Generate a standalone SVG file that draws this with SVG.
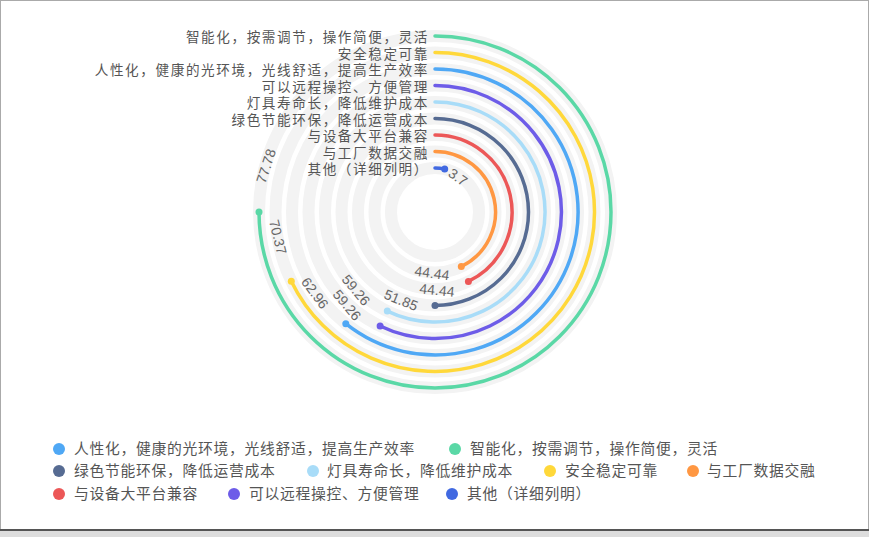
<svg xmlns="http://www.w3.org/2000/svg" width="869" height="537" viewBox="0 0 869 537">
<style>
.t{font-family:"Noto Sans CJK SC","Liberation Sans",sans-serif;font-size:14.8px;fill:#555;letter-spacing:0.7px}
.l{font-size:13.6px;letter-spacing:1.6px}
.v{font-family:"Liberation Sans",sans-serif;font-size:14px;fill:#666;text-anchor:middle;dominant-baseline:central}
.trk{fill:none;stroke:#f3f3f3;stroke-width:12}
.bar{fill:none;stroke-width:3.5;stroke-linecap:round}
</style>
<rect x="0" y="0" width="869" height="537" fill="#fff"/>
<rect x="0.5" y="0.5" width="868" height="530" fill="none" stroke="#aaa"/>
<rect x="0" y="530" width="869" height="7" fill="#ddd"/>
<line x1="0" y1="530" x2="869" y2="530" stroke="#555" stroke-width="2"/>
<g id="tracks">
<circle class="trk" cx="435" cy="212" r="176"/><circle class="trk" cx="435" cy="212" r="159.5"/><circle class="trk" cx="435" cy="212" r="143"/><circle class="trk" cx="435" cy="212" r="126.5"/><circle class="trk" cx="435" cy="212" r="110"/><circle class="trk" cx="435" cy="212" r="93.5"/><circle class="trk" cx="435" cy="212" r="77"/><circle class="trk" cx="435" cy="212" r="60.5"/><circle class="trk" cx="435" cy="212" r="44"/>
</g>
<g id="connectors">
<path class="bar" stroke="#5ad8a6" d="M435 36 A176 176 0 1 1 259 212"/>
<path class="bar" stroke="#ffd83a" d="M435 52.5 A159.5 159.5 0 1 1 291.3 281.2"/>
<path class="bar" stroke="#4fa8f5" d="M435 69 A143 143 0 1 1 345.8 323.7"/>
<path class="bar" stroke="#6d5ce8" d="M435 85.5 A126.5 126.5 0 1 1 380.1 326"/>
<path class="bar" stroke="#a8dcf8" d="M435 102 A110 110 0 1 1 387.3 311.1"/>
<path class="bar" stroke="#566b92" d="M435 118.5 A93.5 93.5 0 0 1 435 305.5"/>
<path class="bar" stroke="#ec5757" d="M435 135 A77 77 0 0 1 468.4 281.4"/>
<path class="bar" stroke="#ff9742" d="M435 151.5 A60.5 60.5 0 0 1 461.3 266.5"/>
<path class="bar" stroke="#4169e1" d="M435 168 A44 44 0 0 1 444.7 169.1"/>
</g>
<g id="n1"><circle cx="259" cy="212" r="3.5" fill="#5ad8a6"/><text class="t l" x="429" y="42" text-anchor="end">智能化，按需调节，操作简便，灵活</text><text class="v" transform="translate(266,166) rotate(-72)">77.78</text></g>
<g id="n2"><circle cx="291.3" cy="281.2" r="3.5" fill="#ffd83a"/><text class="t l" x="429" y="58.5" text-anchor="end">安全稳定可靠</text><text class="v" transform="translate(278,237) rotate(76)">70.37</text></g>
<g id="n3"><circle cx="345.8" cy="323.7" r="3.5" fill="#4fa8f5"/><text class="t l" x="429" y="75" text-anchor="end">人性化，健康的光环境，光线舒适，提高生产效率</text><text class="v" transform="translate(315,293) rotate(53)">62.96</text></g>
<g id="n4"><circle cx="380.1" cy="326" r="3.5" fill="#6d5ce8"/><text class="t l" x="429" y="91.5" text-anchor="end">可以远程操控、方便管理</text><text class="v" transform="translate(347,305) rotate(50)">59.26</text></g>
<g id="n5"><circle cx="387.3" cy="311.1" r="3.5" fill="#a8dcf8"/><text class="t l" x="429" y="108" text-anchor="end">灯具寿命长，降低维护成本</text><text class="v" transform="translate(356,290) rotate(50)">59.26</text></g>
<g id="n6"><circle cx="435" cy="305.5" r="3.5" fill="#566b92"/><text class="t l" x="429" y="124.5" text-anchor="end">绿色节能环保，降低运营成本</text><text class="v" transform="translate(401,300) rotate(22)">51.85</text></g>
<g id="n7"><circle cx="468.4" cy="281.4" r="3.5" fill="#ec5757"/><text class="t l" x="429" y="141" text-anchor="end">与设备大平台兼容</text><text class="v" transform="translate(437,290) rotate(6)">44.44</text></g>
<g id="n8"><circle cx="461.3" cy="266.5" r="3.5" fill="#ff9742"/><text class="t l" x="429" y="157.5" text-anchor="end">与工厂数据交融</text><text class="v" transform="translate(432,273) rotate(8)">44.44</text></g>
<g id="n9"><circle cx="444.7" cy="169.1" r="3.5" fill="#4169e1"/><text class="t l" x="429" y="174" text-anchor="end">其他（详细列明）</text><text class="v" transform="translate(458,177) rotate(35)">3.7</text></g>
<g id="legend">
<circle cx="59" cy="449" r="6" fill="#4fa8f5"/><text class="t" x="74" y="454">人性化，健康的光环境，光线舒适，提高生产效率</text>
<circle cx="455" cy="449" r="6" fill="#5ad8a6"/><text class="t" x="470" y="454">智能化，按需调节，操作简便，灵活</text>
<circle cx="59" cy="471" r="6" fill="#566b92"/><text class="t" x="74" y="476">绿色节能环保，降低运营成本</text>
<circle cx="313" cy="471" r="6" fill="#a8dcf8"/><text class="t" x="327" y="476">灯具寿命长，降低维护成本</text>
<circle cx="550" cy="471" r="6" fill="#ffd83a"/><text class="t" x="565" y="476">安全稳定可靠</text>
<circle cx="693" cy="471" r="6" fill="#ff9742"/><text class="t" x="707" y="476">与工厂数据交融</text>
<circle cx="59" cy="494" r="6" fill="#ec5757"/><text class="t" x="74" y="499">与设备大平台兼容</text>
<circle cx="234" cy="494" r="6" fill="#6d5ce8"/><text class="t" x="249" y="499">可以远程操控、方便管理</text>
<circle cx="452" cy="494" r="6" fill="#4169e1"/><text class="t" x="467" y="499">其他（详细列明）</text>
</g>
</svg>
